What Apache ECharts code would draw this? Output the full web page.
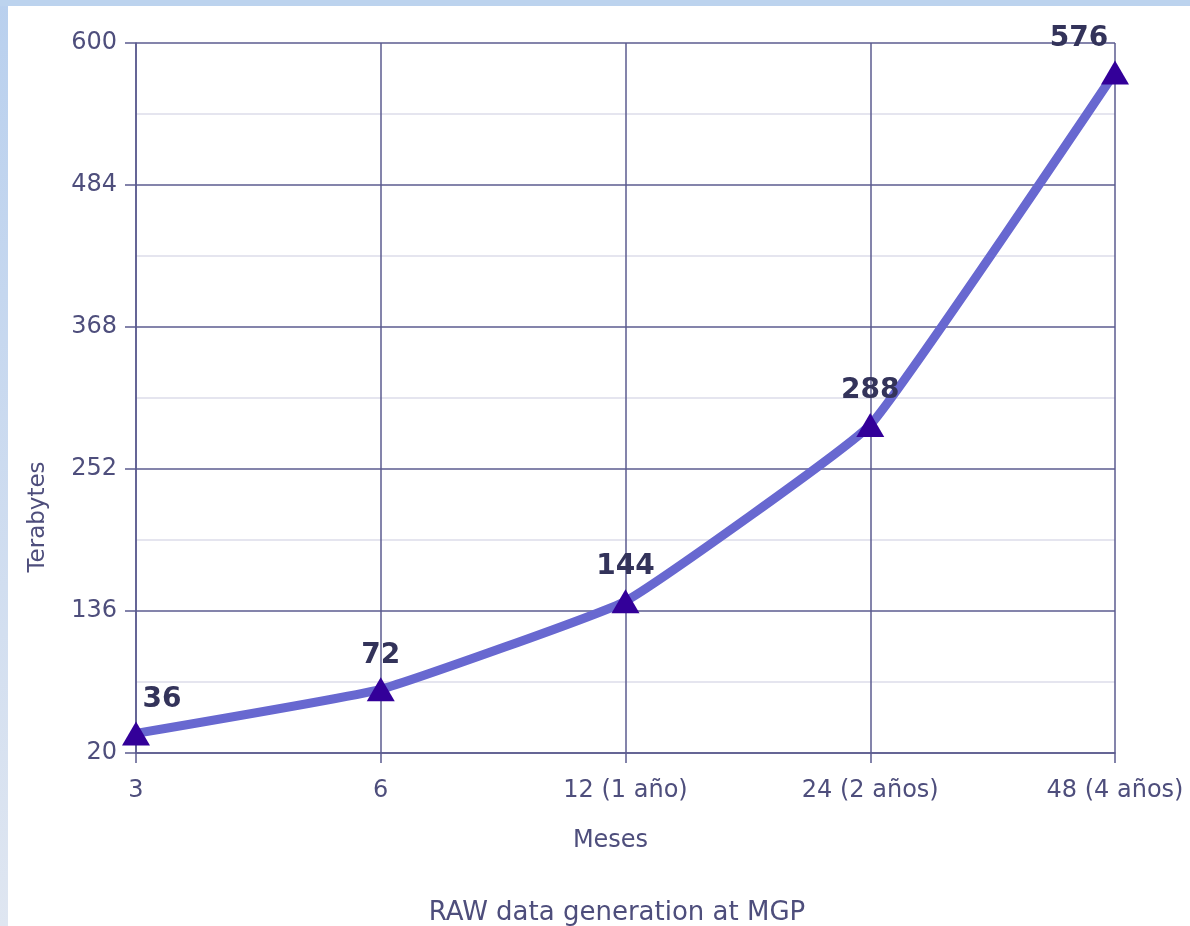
<!DOCTYPE html>
<html>
<head>
<meta charset="utf-8">
<script src="https://cdn.jsdelivr.net/npm/echarts@6/dist/echarts.min.js"></script>
<style>
  html, body { margin: 0; padding: 0; background: #ffffff; }
  #chart { width: 1190px; height: 926px; }
</style>
</head>
<body>
<div id="chart"></div>
<script>
var categories = ['3', '6', '12 (1 año)', '24 (2 años)', '48 (4 años)'];
var terabytes = [36, 72, 144, 288, 576];
var yTicks = [20, 136, 252, 368, 484, 600];
var yMinorTicks = [78, 194, 310, 426, 542];

var labelOffsets = [[26, -6], [0, -6], [0, -6], [0, -6], [-36, -6]];

var axisColor = '#5b5b8f';
var textColor = '#4e4e7c';
var fontFamily = '"DejaVu Sans", sans-serif';

var chart = echarts.init(document.getElementById('chart'));

var option = {
    animation: false,
    backgroundColor: '#ffffff',
    graphic: [
        {
            type: 'rect',
            shape: { x: 0, y: 0, width: 8, height: 926 },
            style: {
                fill: new echarts.graphic.LinearGradient(0, 0, 0, 1, [
                    { offset: 0, color: '#b9d0ee' },
                    { offset: 1, color: '#dfe6f1' }
                ])
            },
            z: 10
        },
        {
            type: 'rect',
            shape: { x: 0, y: 0, width: 1190, height: 6 },
            style: { fill: '#bcd3ee' },
            z: 10
        },
        {
            type: 'text',
            x: 27,
            y: 517,
            rotation: Math.PI / 2,
            style: {
                text: 'Terabytes',
                fill: textColor,
                font: '23px ' + fontFamily,
                align: 'center',
                verticalAlign: 'top'
            }
        }
    ],
    title: {
        text: 'RAW data generation at MGP',
        left: 612,
        textAlign: 'center',
        top: 895,
        textStyle: {
            color: textColor,
            fontSize: 26,
            fontWeight: 'normal',
            fontFamily: fontFamily
        }
    },
    grid: {
        left: 136,
        right: 75,
        top: 43,
        bottom: 173,
        containLabel: false
    },
    xAxis: {
        type: 'category',
        data: categories,
        boundaryGap: false,
        name: 'Meses',
        nameLocation: 'middle',
        nameGap: 76,
        nameTextStyle: { color: textColor, fontSize: 24, fontFamily: fontFamily, padding: [0, 30, 0, 0] },
        axisLine: { show: true, lineStyle: { color: axisColor, width: 1.5 } },
        axisTick: { show: true, length: 10, alignWithLabel: true, lineStyle: { color: axisColor, width: 1.5 } },
        axisLabel: { color: textColor, fontSize: 24, margin: 26, fontFamily: fontFamily },
        splitLine: { show: true, lineStyle: { color: axisColor, width: 1.5 } }
    },
    yAxis: [
        {
            type: 'value',
            min: 20,
            max: 600,
            axisLine: { show: true, lineStyle: { color: axisColor, width: 1.5 } },
            axisTick: { show: true, length: 11, customValues: yTicks, lineStyle: { color: axisColor, width: 1.5 } },
            axisLabel: { color: textColor, fontSize: 24, margin: 19, customValues: yTicks, fontFamily: fontFamily },
            splitLine: { show: true, lineStyle: { color: axisColor, width: 1.5 } }
        },
        {
            type: 'value',
            min: 20,
            max: 600,
            position: 'left',
            axisLine: { show: false },
            axisTick: { show: false, customValues: yMinorTicks },
            axisLabel: { show: false, customValues: yMinorTicks },
            splitLine: { show: true, lineStyle: { color: '#dcdcea', width: 1.5 } }
        }
    ],
    series: [
        {
            type: 'line',
            yAxisIndex: 0,
            smooth: 0.1,
            data: terabytes.map(function (v, i) {
                return {
                    value: v,
                    label: { offset: labelOffsets[i] }
                };
            }),
            lineStyle: { color: '#6868d0', width: 9 },
            symbol: 'triangle',
            symbolSize: [28, 24],
            itemStyle: { color: '#330099' },
            z: 5,
            label: {
                show: true,
                position: 'top',
                distance: 2,
                color: '#33335a',
                fontSize: 28,
                fontWeight: 'bold',
                fontFamily: fontFamily
            }
        }
    ]
};

chart.setOption(option);
</script>
</body>
</html>
